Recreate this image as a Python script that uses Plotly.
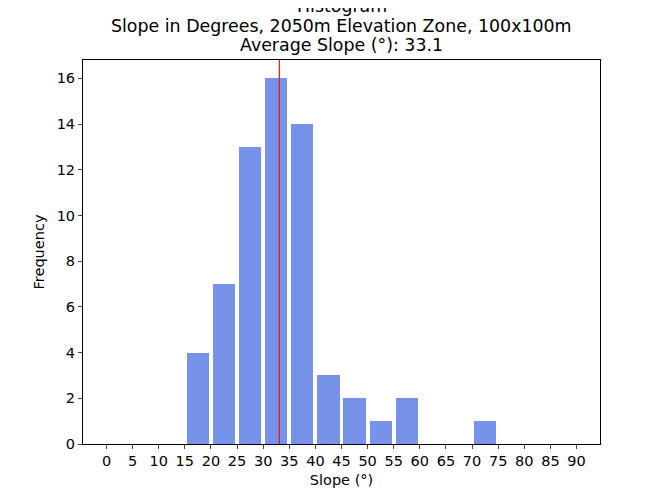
import numpy as np
import plotly.graph_objects as go

# histogram bins (left edges, 5 degree wide) and counts
bin_edges = list(range(0, 95, 5))
counts = [0, 0, 0, 4, 7, 13, 16, 14, 3, 2, 1, 2, 0, 0, 1, 0, 0, 0]
avg_slope = 33.1
tick_vals = list(range(0, 95, 5))
title_lines = ['Histogram',
               'Slope in Degrees, 2050m Elevation Zone, 100x100m',
               'Average Slope (°): 33.1']

bin_width = 5
centers = np.array(bin_edges[:-1]) + bin_width / 2

fig = go.Figure()
fig.add_trace(go.Bar(
    x=centers,
    y=counts,
    width=bin_width * 0.85,
    marker_color='rgba(65,105,225,0.72)',
    marker_line_width=0,
    showlegend=False
))
fig.add_shape(type='line', x0=avg_slope, x1=avg_slope, y0=0, y1=1,
              xref='x', yref='paper', line=dict(color='#e31a1c', width=1.2))

# title as three lines, matplotlib-like spacing
for i, line in enumerate(title_lines):
    fig.add_annotation(text=line, x=0.5, xref='paper', y=1, yref='paper',
                       xanchor='center', yanchor='middle', showarrow=False,
                       yshift=54 - 19.5 * i, font=dict(size=17.4))

font = 'DejaVu Sans, sans-serif'
fig.update_layout(
    width=667, height=500,
    margin=dict(l=75, r=75, t=52, b=64),
    plot_bgcolor='white', paper_bgcolor='white',
    font=dict(family=font, size=14.5, color='black'),
    bargap=0,
)
fig.update_xaxes(range=[-4.5, 94.5], tickvals=tick_vals, ticks='outside', ticklen=4,
                 showline=True, linecolor='black', linewidth=1, mirror=True,
                 showgrid=False, zeroline=False,
                 title=dict(text='Slope (°)', standoff=6, font=dict(size=14.5)))
fig.update_yaxes(range=[0, 16.8], dtick=2, ticks='outside', ticklen=4,
                 showline=True, linecolor='black', linewidth=1, mirror=True,
                 showgrid=False, zeroline=False,
                 title=dict(text='Frequency', standoff=8, font=dict(size=14.5)))

fig.write_html("out.html")
